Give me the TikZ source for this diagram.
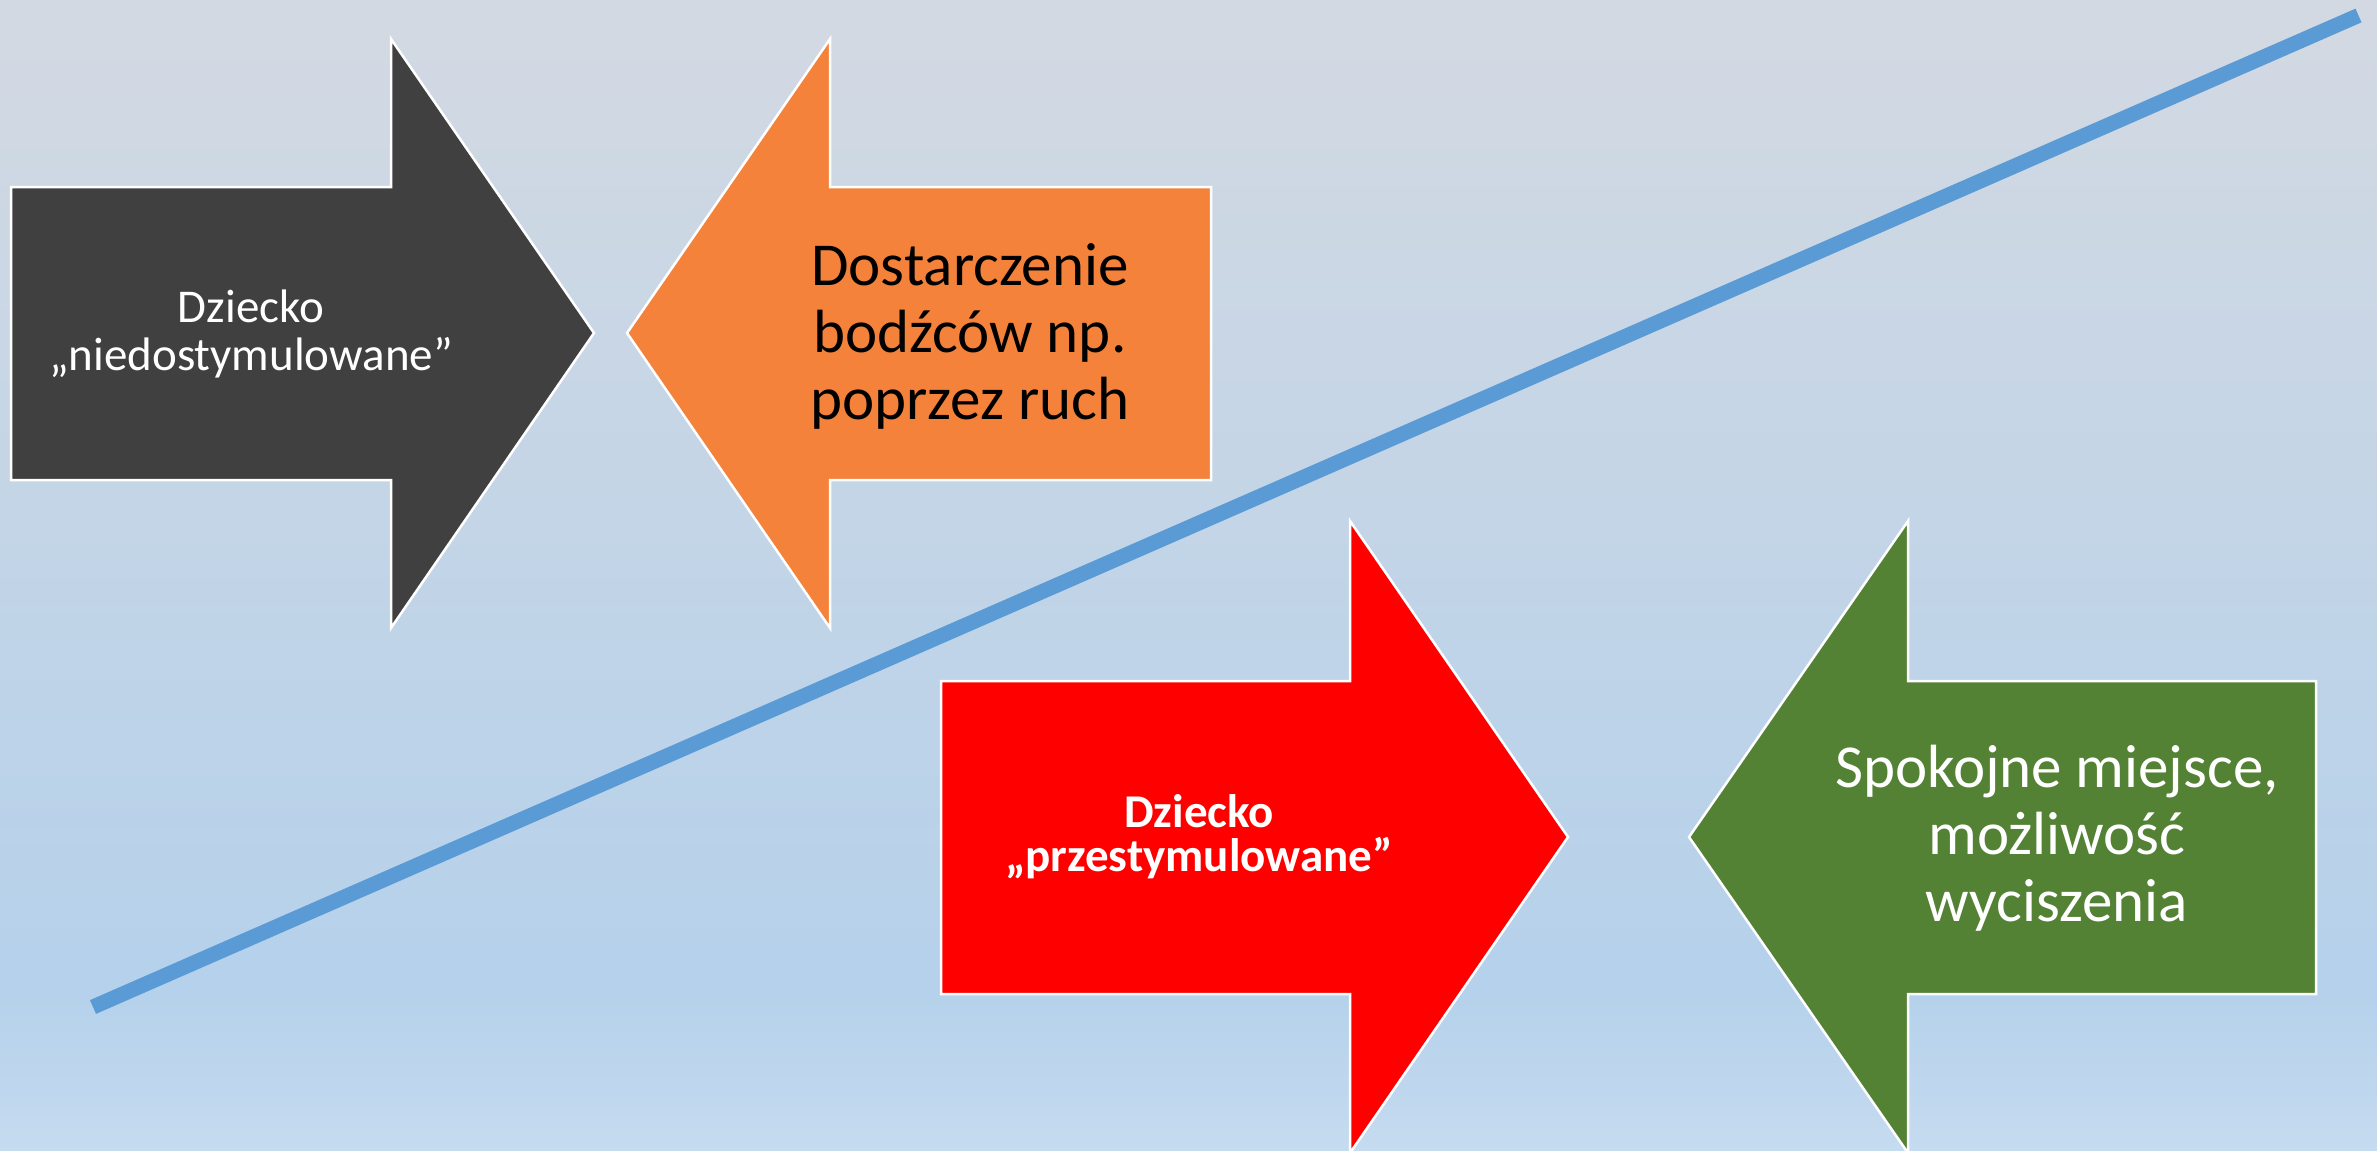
\documentclass[tikz,border=0pt]{standalone}
\usepackage{fontspec}
\setmainfont{Carlito}
\definecolor{bgtop}{HTML}{D3D9E2}
\definecolor{bgmid}{HTML}{B5D1EB}
\definecolor{bgbot}{HTML}{C5DBF0}
\definecolor{darkgrey}{HTML}{404040}
\definecolor{orangeA}{HTML}{F4823A}
\definecolor{redA}{HTML}{FF0000}
\definecolor{greenA}{HTML}{548235}
\definecolor{lineblue}{HTML}{5B9BD5}
\begin{document}
\begin{tikzpicture}[x=1pt,y=-1pt,
  shapebox/.style={draw=white, line width=2.5pt, line join=miter},
  txt/.style={inner sep=0pt, align=center},
  smalltxt/.style={txt, font=\fontsize{47}{48}\selectfont},
  bigtxt/.style={txt, font=\fontsize{61}{67}\selectfont},
  boldtxt/.style={txt, font=\fontsize{47}{44}\selectfont\bfseries}]
\useasboundingbox (0,0) rectangle (2377,1151);
% background
\shade[top color=bgtop, bottom color=bgmid] (0,0) rectangle (2377,990);
\shade[top color=bgmid, bottom color=bgbot] (0,990) rectangle (2377,1151);
% diagonal line
\coordinate (la) at (93,1007);
\coordinate (lb) at (2358.5,15.5);
\draw[lineblue, line width=15pt, line cap=butt] (la) -- (lb);
% dark arrow (right)
\fill[darkgrey] (11,187) -- (391,187) -- (391,39) -- (594,333) -- (391,628) -- (391,480) -- (11,480) -- cycle;
\draw[shapebox] (11,187) -- (391,187) -- (391,39) -- (594,333) -- (391,628) -- (391,480) -- (11,480) -- cycle;
% orange arrow (left)
\fill[orangeA] (627,333) -- (830,39) -- (830,187) -- (1211,187) -- (1211,480) -- (830,480) -- (830,628) -- cycle;
\draw[shapebox] (627,333) -- (830,39) -- (830,187) -- (1211,187) -- (1211,480) -- (830,480) -- (830,628) -- cycle;
% red arrow (right)
\fill[redA] (941,681) -- (1350,681) -- (1350,521) -- (1568,837) -- (1350,1153) -- (1350,994) -- (941,994) -- cycle;
\draw[shapebox] (941,681) -- (1350,681) -- (1350,521) -- (1568,837) -- (1350,1153) -- (1350,994) -- (941,994) -- cycle;
% green arrow (left)
\fill[greenA] (1689,837) -- (1908,521) -- (1908,681) -- (2316,681) -- (2316,994) -- (1908,994) -- (1908,1153) -- cycle;
\draw[shapebox] (1689,837) -- (1908,521) -- (1908,681) -- (2316,681) -- (2316,994) -- (1908,994) -- (1908,1153) -- cycle;
% texts
\node[smalltxt, text=white] (t1) at (251,334) {Dziecko\\„niedostymulowane”};
\node[bigtxt, text=black] (t2) at (970,336) {Dostarczenie\\bodźców np.\\poprzez ruch};
\node[boldtxt, text=white] (t3) at (1199,837) {Dziecko\\„przestymulowane”};
\node[bigtxt, text=white] (t4) at (2057,838) {Spokojne miejsce,\\możliwość\\wyciszenia};
\end{tikzpicture}
\end{document}
